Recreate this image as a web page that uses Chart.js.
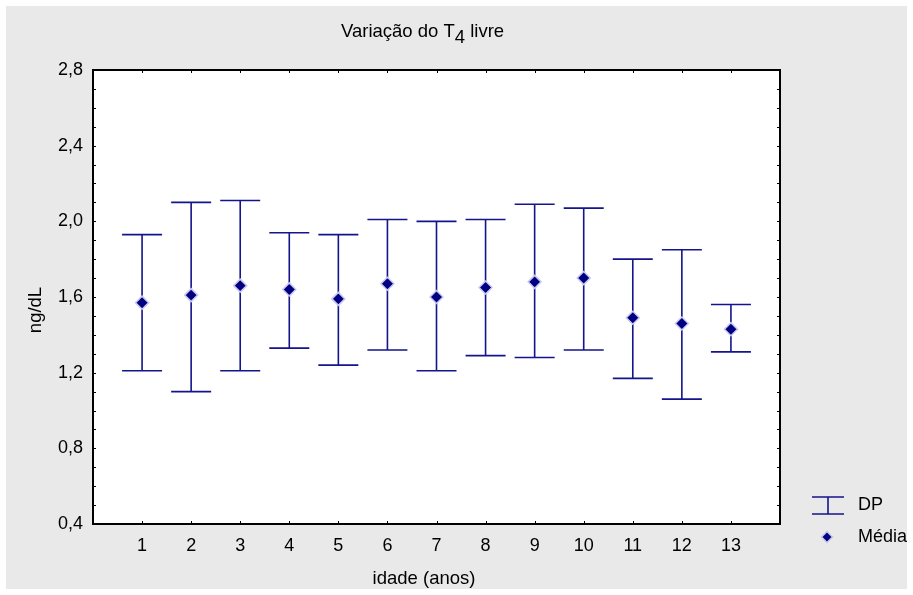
<!DOCTYPE html>
<html><head><meta charset="utf-8">
<script src="https://cdn.jsdelivr.net/npm/chart.js@4/dist/chart.umd.min.js"></script>
<style>html,body{margin:0;padding:0;background:#fff}#wrap{width:913px;height:595px}</style>
</head><body><div id="wrap"><canvas id="c" width="913" height="595"></canvas></div>
<script>
const categories = [1,2,3,4,5,6,7,8,9,10,11,12,13];
const means = [1.57,1.61,1.66,1.64,1.59,1.67,1.60,1.65,1.68,1.70,1.49,1.46,1.43];
const upper = [1.93,2.10,2.11,1.94,1.93,2.01,2.00,2.01,2.09,2.07,1.80,1.85,1.56];
const lower = [1.21,1.10,1.21,1.33,1.24,1.32,1.21,1.29,1.28,1.32,1.17,1.06,1.31];
const yTicks = [0.4,0.8,1.2,1.6,2.0,2.4,2.8];
const yMinorStep = 0.1;
const titleParts = ["Variação do T", "4", " livre"];
const xTitle = "idade (anos)";
const yTitle = "ng/dL";
const legendLabels = ["DP", "Média"];

const NAVY = '#000080';
const BAR = '#14148c';
const HALO = '#c8c8f0';
const FONT = '"Liberation Sans", Arial, sans-serif';

const decor = {
  id: 'decor',
  beforeDraw(chart) {
    const ctx = chart.ctx, a = chart.chartArea;
    ctx.save();
    ctx.fillStyle = '#ffffff';
    ctx.fillRect(0, 0, chart.width, chart.height);
    ctx.fillStyle = '#e9e9e9';
    ctx.fillRect(6, 6, chart.width - 12, chart.height - 12);
    ctx.fillStyle = '#ffffff';
    ctx.fillRect(a.left, a.top, a.right - a.left, a.bottom - a.top);
    ctx.restore();
  },
  beforeDatasetsDraw(chart) {
    const ctx = chart.ctx, xs = chart.scales.x, ys = chart.scales.y;
    const cap = 20;
    ctx.save();
    ctx.strokeStyle = BAR;
    ctx.lineWidth = 1.6;
    categories.forEach((c, i) => {
      const x = xs.getPixelForValue(c);
      const yt = ys.getPixelForValue(upper[i]);
      const yb = ys.getPixelForValue(lower[i]);
      ctx.beginPath();
      ctx.moveTo(x, yt); ctx.lineTo(x, yb);
      ctx.moveTo(x - cap, yt); ctx.lineTo(x + cap, yt);
      ctx.moveTo(x - cap, yb); ctx.lineTo(x + cap, yb);
      ctx.stroke();
    });
    ctx.restore();
  },
  afterDraw(chart) {
    const ctx = chart.ctx, a = chart.chartArea, xs = chart.scales.x, ys = chart.scales.y;
    ctx.save();
    // ticks (inward)
    ctx.strokeStyle = '#000';
    ctx.lineWidth = 1;
    ctx.beginPath();
    for (let v = ys.min; v <= ys.max + 1e-9; v += yMinorStep) {
      const y = Math.round(ys.getPixelForValue(v)) + 0.5;
      ctx.moveTo(a.left, y); ctx.lineTo(a.left + 3, y);
      ctx.moveTo(a.right, y); ctx.lineTo(a.right - 3, y);
    }
    categories.forEach(c => {
      const x = Math.round(xs.getPixelForValue(c)) + 0.5;
      ctx.moveTo(x, a.top); ctx.lineTo(x, a.top + 3);
      ctx.moveTo(x, a.bottom); ctx.lineTo(x, a.bottom - 3);
    });
    ctx.stroke();
    // frame
    ctx.lineWidth = 2;
    ctx.strokeStyle = '#000';
    ctx.strokeRect(a.left, a.top, a.right - a.left, a.bottom - a.top);
    // title
    ctx.fillStyle = '#000';
    ctx.font = '18.5px ' + FONT;
    ctx.textBaseline = 'alphabetic';
    ctx.textAlign = 'left';
    const w0 = ctx.measureText(titleParts[0]).width;
    const w1 = ctx.measureText(titleParts[1]).width;
    let tx = 341, ty = 37;
    ctx.fillText(titleParts[0], tx, ty);
    ctx.fillText(titleParts[1], tx + w0, ty + 6);
    ctx.fillText(titleParts[2], tx + w0 + w1, ty);
    // axis titles
    ctx.font = '18.5px ' + FONT;
    ctx.textAlign = 'center';
    ctx.textBaseline = 'middle';
    ctx.fillText(xTitle, 424, 579);
    ctx.save();
    ctx.translate(36, 310);
    ctx.rotate(-Math.PI / 2);
    ctx.fillText(yTitle, 0, 0);
    ctx.restore();
    // legend
    ctx.strokeStyle = BAR;
    ctx.lineWidth = 1.6;
    ctx.beginPath();
    ctx.moveTo(812, 514); ctx.lineTo(844, 514);
    ctx.moveTo(812, 497); ctx.lineTo(844, 497);
    ctx.moveTo(828, 497); ctx.lineTo(828, 514);
    ctx.stroke();
    ctx.beginPath();
    ctx.moveTo(827, 531.5); ctx.lineTo(832.5, 537); ctx.lineTo(827, 542.5); ctx.lineTo(821.5, 537); ctx.closePath();
    ctx.fillStyle = NAVY; ctx.fill();
    ctx.strokeStyle = HALO; ctx.lineWidth = 1.5; ctx.stroke();
    ctx.fillStyle = '#000';
    ctx.textAlign = 'left';
    ctx.font = '18px ' + FONT;
    ctx.fillText(legendLabels[0], 858, 505);
    ctx.fillText(legendLabels[1], 858, 537);
    ctx.restore();
  }
};

new Chart(document.getElementById('c'), {
  type: 'scatter',
  data: {
    datasets: [{
      label: legendLabels[1],
      data: categories.map((c, i) => ({ x: c, y: means[i] })),
      pointStyle: 'rectRot',
      pointRadius: 6.5,
      pointHoverRadius: 6.5,
      backgroundColor: NAVY,
      borderColor: HALO,
      borderWidth: 1.5
    }]
  },
  options: {
    responsive: false,
    animation: false,
    layout: { padding: { left: 0, right: 133, top: 70, bottom: 0 } },
    plugins: { legend: { display: false }, tooltip: { enabled: false } },
    scales: {
      x: {
        type: 'linear', min: 0, max: 14,
        afterBuildTicks: s => { s.ticks = categories.map(v => ({ value: v })); },
        afterFit: s => { s.height = 71; },
        grid: { display: false, drawTicks: false },
        border: { display: false },
        ticks: { color: '#000', font: { family: FONT, size: 18 }, padding: 11, maxRotation: 0, autoSkip: false }
      },
      y: {
        min: 0.4, max: 2.8,
        afterBuildTicks: s => { s.ticks = yTicks.map(v => ({ value: v })); },
        afterFit: s => { s.width = 93; },
        grid: { display: false, drawTicks: false },
        border: { display: false },
        ticks: { color: '#000', font: { family: FONT, size: 18 }, padding: 10,
          callback: v => Number(v).toFixed(1).replace('.', ',') }
      }
    }
  },
  plugins: [decor]
});
</script>
</body></html>
